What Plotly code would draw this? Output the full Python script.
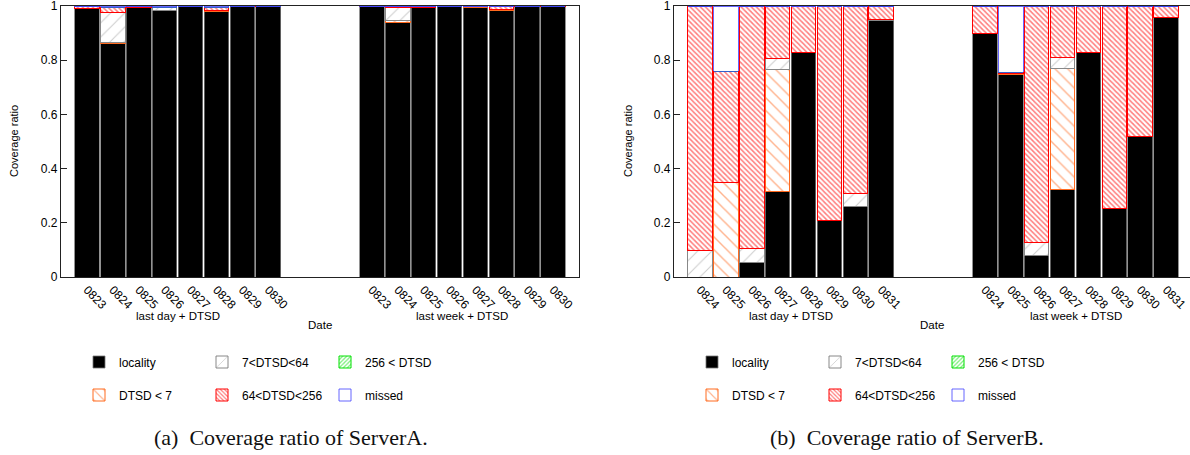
import plotly.graph_objects as go

W, H = 1190, 455

def fx(px):
    return px / W

def fy(py):
    return 1 - py / H

dates_a = ["0823", "0824", "0825", "0826", "0827", "0828", "0829", "0830"]
dates_b = ["0824", "0825", "0826", "0827", "0828", "0829", "0830", "0831"]
group_labels = ["last day + DTSD", "last week + DTSD"]
series_names = ["locality", "DTSD < 7", "7<DTSD<64", "64<DTSD<256", "256 < DTSD", "missed"]

# ServerA: last day (8) + last week (8)
a_locality = [0.990, 0.862, 0.995, 0.982, 0.997, 0.980, 0.998, 0.997,
              0.997, 0.940, 0.994, 0.998, 0.996, 0.985, 0.998, 0.998]
a_d7 = [0.002, 0.005, 0.001, 0.003, 0.001, 0.002, 0.000, 0.001,
        0.000, 0.005, 0.002, 0.000, 0.001, 0.001, 0.000, 0.000]
a_d64 = [0.000, 0.108, 0.000, 0.008, 0.000, 0.000, 0.000, 0.000,
         0.000, 0.050, 0.000, 0.000, 0.000, 0.000, 0.000, 0.000]
a_d256 = [0.005, 0.020, 0.002, 0.003, 0.001, 0.014, 0.001, 0.001,
          0.001, 0.002, 0.002, 0.001, 0.001, 0.012, 0.001, 0.001]
a_g256 = [0.0] * 16
a_missed = [0.003, 0.005, 0.002, 0.004, 0.001, 0.004, 0.001, 0.001,
            0.002, 0.003, 0.002, 0.001, 0.002, 0.002, 0.001, 0.001]

# ServerB
b_locality = [0.000, 0.000, 0.055, 0.316, 0.827, 0.210, 0.262, 0.945,
              0.898, 0.748, 0.079, 0.323, 0.827, 0.252, 0.520, 0.959]
b_d7 = [0.000, 0.347, 0.000, 0.449, 0.000, 0.000, 0.000, 0.000,
        0.000, 0.004, 0.000, 0.448, 0.000, 0.000, 0.000, 0.000]
b_d64 = [0.098, 0.000, 0.052, 0.043, 0.000, 0.000, 0.045, 0.006,
         0.000, 0.000, 0.050, 0.038, 0.000, 0.000, 0.000, 0.000]
b_d256 = [0.902, 0.412, 0.893, 0.192, 0.170, 0.790, 0.693, 0.049,
          0.102, 0.004, 0.871, 0.191, 0.173, 0.748, 0.480, 0.041]
b_g256 = [0.0] * 16
b_missed = [0.000, 0.241, 0.000, 0.000, 0.003, 0.000, 0.000, 0.000,
            0.000, 0.244, 0.000, 0.000, 0.000, 0.000, 0.000, 0.000]

# positions: two groups of 8 separated by a gap of 3 slots
pos = list(range(8)) + [11 + i for i in range(8)]

styles = {
    "locality": dict(color="black", line="#777777", shape="", size=8, sol=0.3),
    "DTSD < 7": dict(color="#ff6a1f", line="#ff6a1f", shape="\\", size=9, sol=0.16),
    "7<DTSD<64": dict(color="#999999", line="#888888", shape="/", size=10, sol=0.1),
    "64<DTSD<256": dict(color="#ff0000", line="#ff0000", shape="\\", size=3.6, sol=0.45),
    "256 < DTSD": dict(color="#00e000", line="#00e000", shape="/", size=3.6, sol=0.45),
    "missed": dict(color="white", line="#4040ff", shape="", size=8, sol=0.3),
}
row1 = ["locality", "7<DTSD<64", "256 < DTSD"]

fig = go.Figure()

def add_chart(vals, xa, ya, leg1, leg2):
    for name, v in zip(series_names, vals):
        s = styles[name]
        if s["shape"]:
            marker = dict(color="white",
                          pattern=dict(shape=s["shape"], fgcolor=s["color"], bgcolor="white",
                                       size=s["size"], solidity=s["sol"]),
                          line=dict(color=s["line"], width=1))
        else:
            marker = dict(color=s["color"], line=dict(color=s["line"], width=0.8))
        fig.add_trace(go.Bar(x=pos, y=v, name=name, width=0.95, marker=marker,
                             xaxis=xa, yaxis=ya,
                             legend=leg1 if name in row1 else leg2,
                             hoverinfo="skip"))

add_chart([a_locality, a_d7, a_d64, a_d256, a_g256, a_missed], "x", "y", "legend", "legend2")
add_chart([b_locality, b_d7, b_d64, b_d256, b_g256, b_missed], "x2", "y2", "legend3", "legend4")

ydom = [fy(277), fy(6)]
dom1 = [fx(61), fx(579)]
dom2 = [fx(674), 1.0]

axis_common = dict(showline=True, linecolor="#222222", linewidth=1.2, mirror=True,
                   showgrid=False, zeroline=False)
xcommon = dict(axis_common, tickvals=pos, tickangle=45, ticks="",
               tickfont=dict(family="Liberation Sans", size=12, color="black"))
ycommon = dict(axis_common, range=[0, 1.0], tickvals=[0, 0.2, 0.4, 0.6, 0.8, 1],
               ticktext=["0", "0.2", "0.4", "0.6", "0.8", "1"], ticks="inside",
               ticklen=6, tickcolor="#222222", domain=ydom, ticklabeloverflow="allow",
               tickfont=dict(family="Liberation Sans", size=12, color="black"))

fig.update_layout(
    width=W, height=H, margin=dict(l=0, r=0, t=0, b=0, autoexpand=False),
    paper_bgcolor="white", plot_bgcolor="white", barmode="stack", bargap=0,
    xaxis=dict(xcommon, domain=dom1, range=[-1, 19], ticktext=dates_a + dates_a),
    yaxis=dict(ycommon, anchor="x"),
    xaxis2=dict(xcommon, domain=dom2, range=[-1, 18.92], ticktext=dates_b + dates_b, anchor="y2"),
    yaxis2=dict(ycommon, anchor="x2"),
    font=dict(family="Liberation Sans", size=11, color="black"),
)

legfont = dict(family="Liberation Sans", size=12, color="black")

def leg(xpx, ypx):
    return dict(orientation="h", x=fx(xpx), y=fy(ypx), xanchor="left", yanchor="middle",
                entrywidth=78, entrywidthmode="pixels", font=legfont,
                bgcolor="rgba(0,0,0,0)", traceorder="normal", itemclick=False)

fig.update_layout(legend=leg(79, 362), legend2=leg(79, 395),
                  legend3=leg(692, 362), legend4=leg(692, 395))

ann = []
for xr, cx in (("x", 320), ("x2", 932)):
    ann.append(dict(text=group_labels[0], x=3.5, xref=xr, y=fy(316), yref="paper",
                    xanchor="center", yanchor="middle", showarrow=False, font=dict(size=11.5)))
    ann.append(dict(text=group_labels[1], x=14.5, xref=xr, y=fy(316), yref="paper",
                    xanchor="center", yanchor="middle", showarrow=False, font=dict(size=11.5)))
    ann.append(dict(text="Date", x=fx(cx), xref="paper", y=fy(325), yref="paper",
                    xanchor="center", yanchor="middle", showarrow=False, font=dict(size=11.5)))
for cx in (14, 628):
    ann.append(dict(text="Coverage ratio", x=fx(cx), y=fy(141), xref="paper", yref="paper",
                    xanchor="center", yanchor="middle", textangle=-90, showarrow=False,
                    font=dict(size=11)))
ann.append(dict(text="(a)\u00a0\u00a0Coverage ratio of ServerA.", x=fx(291), y=fy(437),
                xref="paper", yref="paper", xanchor="center", yanchor="middle", showarrow=False,
                font=dict(family="Liberation Serif", size=22, color="#111111")))
ann.append(dict(text="(b)\u00a0\u00a0Coverage ratio of ServerB.", x=fx(907), y=fy(437),
                xref="paper", yref="paper", xanchor="center", yanchor="middle", showarrow=False,
                font=dict(family="Liberation Serif", size=22, color="#111111")))
fig.update_layout(annotations=ann)

# the page body has a default 8px margin; remove it so the figure fills the window
fig.write_html("out.html",
               config={"displayModeBar": False, "staticPlot": True},
               post_script="document.body.style.margin='0px';document.body.style.overflow='hidden';")
